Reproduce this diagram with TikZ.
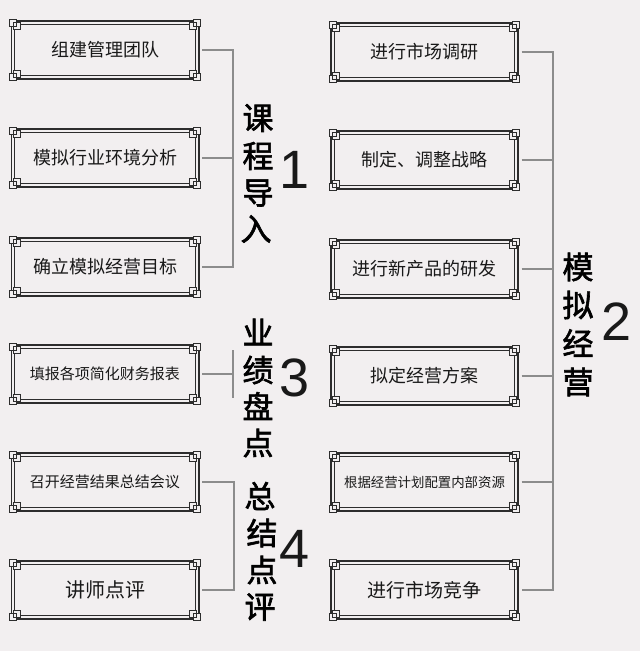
\documentclass[tikz,border=0pt]{standalone}
\usepackage{fontspec}
\setmainfont{Liberation Sans}
\newfontfamily\cjk{Noto Sans CJK SC}
\newfontfamily\brush[FakeBold=2]{Noto Sans CJK SC}
\newfontfamily\numf{Liberation Sans}
\definecolor{bgc}{RGB}{242,239,240}
\definecolor{framec}{RGB}{45,45,45}
\definecolor{connc}{RGB}{140,140,140}
\tikzset{
  stepbox/.style={minimum width=190pt, minimum height=61pt, inner sep=0pt,
    font=\cjk\fontsize{18}{20}\selectfont, text=black!90},
  conn/.style={draw=connc, line width=1.4pt},
  thickline/.style={draw=framec, line width=1.6pt},
  thinline/.style={draw=framec, line width=0.8pt},
  brushc/.style={font=\brush\fontsize{31}{31}\selectfont, inner sep=0pt, text=black},
  bignum/.style={font=\numf\fontsize{54}{54}\selectfont, inner sep=0pt, text=black!90},
}
\newcommand\cnframe[1]{%
  \draw[thinline] (#1.north west) rectangle ([shift={(7pt,-7pt)}]#1.north west);
  \draw[thinline] ([shift={(3.5pt,-3.5pt)}]#1.north west) rectangle ([shift={(10.5pt,-10.5pt)}]#1.north west);
  \draw[thinline] ([shift={(-7pt,0pt)}]#1.north east) rectangle ([shift={(0pt,-7pt)}]#1.north east);
  \draw[thinline] ([shift={(-10.5pt,-3.5pt)}]#1.north east) rectangle ([shift={(-3.5pt,-10.5pt)}]#1.north east);
  \draw[thinline] (#1.south west) rectangle ([shift={(7pt,7pt)}]#1.south west);
  \draw[thinline] ([shift={(3.5pt,3.5pt)}]#1.south west) rectangle ([shift={(10.5pt,10.5pt)}]#1.south west);
  \draw[thinline] ([shift={(-7pt,0pt)}]#1.south east) rectangle ([shift={(0pt,7pt)}]#1.south east);
  \draw[thinline] ([shift={(-10.5pt,3.5pt)}]#1.south east) rectangle ([shift={(-3.5pt,10.5pt)}]#1.south east);
  \draw[thickline] ([shift={(7pt,-1.5pt)}]#1.north west) -- ([shift={(-7pt,-1.5pt)}]#1.north east);
  \draw[thinline] ([shift={(10.5pt,-5pt)}]#1.north west) -- ([shift={(-10.5pt,-5pt)}]#1.north east);
  \draw[thickline] ([shift={(7pt,1.5pt)}]#1.south west) -- ([shift={(-7pt,1.5pt)}]#1.south east);
  \draw[thinline] ([shift={(10.5pt,5pt)}]#1.south west) -- ([shift={(-10.5pt,5pt)}]#1.south east);
  \draw[thickline] ([shift={(1.5pt,-7pt)}]#1.north west) -- ([shift={(1.5pt,7pt)}]#1.south west);
  \draw[thinline] ([shift={(5pt,-10.5pt)}]#1.north west) -- ([shift={(5pt,10.5pt)}]#1.south west);
  \draw[thickline] ([shift={(-1.5pt,-7pt)}]#1.north east) -- ([shift={(-1.5pt,7pt)}]#1.south east);
  \draw[thinline] ([shift={(-5pt,-10.5pt)}]#1.north east) -- ([shift={(-5pt,10.5pt)}]#1.south east);
}
\begin{document}
\begin{tikzpicture}[x=1pt,y=-1pt]
\fill[bgc] (0,0) rectangle (640,651);
\useasboundingbox (0,0) rectangle (640,651);

% left column
\node[stepbox] (L1) at (105,50) {组建管理团队};
\node[stepbox] (L2) at (105,158) {模拟行业环境分析};
\node[stepbox] (L3) at (105,267) {确立模拟经营目标};
\node[stepbox, font=\cjk\fontsize{15}{17}\selectfont] (L4) at (105,374) {填报各项简化财务报表};
\node[stepbox, font=\cjk\fontsize{15}{17}\selectfont] (L5) at (105,482) {召开经营结果总结会议};
\node[stepbox, font=\cjk\fontsize{20}{22}\selectfont] (L6) at (105,590) {讲师点评};

% right column
\node[stepbox] (R1) at (424.5,52) {进行市场调研};
\node[stepbox] (R2) at (424.5,160) {制定、调整战略};
\node[stepbox] (R3) at (424.5,269) {进行新产品的研发};
\node[stepbox] (R4) at (424.5,376) {拟定经营方案};
\node[stepbox, font=\cjk\fontsize{13.4}{15}\selectfont] (R5) at (424.5,482) {根据经营计划配置内部资源};
\node[stepbox, font=\cjk\fontsize{19}{21}\selectfont] (R6) at (424.5,590) {进行市场竞争};

\foreach \n in {L1,L2,L3,L4,L5,L6,R1,R2,R3,R4,R5,R6} {\cnframe{\n}}

% bus coordinates
\coordinate (busA) at (233,0);
\coordinate (busC) at (234,0);
\coordinate (busB) at (553,0);
\coordinate (t3a) at (233,350);
\coordinate (t3b) at (233,398);

% group 1
\draw[conn] ([xshift=2pt]L1.east) -- (L1.east -| busA) -- (L3.east -| busA) -- ([xshift=2pt]L3.east);
\draw[conn] ([xshift=2pt]L2.east) -- (L2.east -| busA);
% group 3
\draw[conn] ([xshift=2pt]L4.east) -- (L4.east -| busA);
\draw[conn] (t3a) -- (t3b);
% group 4
\draw[conn] ([xshift=2pt]L5.east) -- (L5.east -| busC) -- (L6.east -| busC) -- ([xshift=2pt]L6.east);
% group 2
\draw[conn] ([xshift=2pt]R1.east) -- (R1.east -| busB) -- (R6.east -| busB) -- ([xshift=2pt]R6.east);
\foreach \n in {R2,R3,R4,R5} {\draw[conn] ([xshift=2pt]\n.east) -- (\n.east -| busB);}

% titles
\node[brushc] (c11) at (258,118) {课};
\node[brushc] (c12) at (258,156) {程};
\node[brushc] (c13) at (258,193) {导};
\node[brushc] (c14) at (256,229) {入};
\node[bignum] (n1) at (295,170) {1};

\node[brushc] (c21) at (578,267) {模};
\node[brushc] (c22) at (578,305) {拟};
\node[brushc] (c23) at (578,343) {经};
\node[brushc] (c24) at (578,382) {营};
\node[bignum] (n2) at (617,322) {2};

\node[brushc] (c31) at (258,332) {业};
\node[brushc] (c32) at (258,370) {绩};
\node[brushc] (c33) at (258,406) {盘};
\node[brushc] (c34) at (258,443) {点};
\node[bignum] (n3) at (295,378) {3};

\node[brushc] (c41) at (260,496) {总};
\node[brushc] (c42) at (262,533) {结};
\node[brushc] (c43) at (262,570) {点};
\node[brushc] (c44) at (260,607) {评};
\node[bignum] (n4) at (295,549) {4};
\end{tikzpicture}
\end{document}
